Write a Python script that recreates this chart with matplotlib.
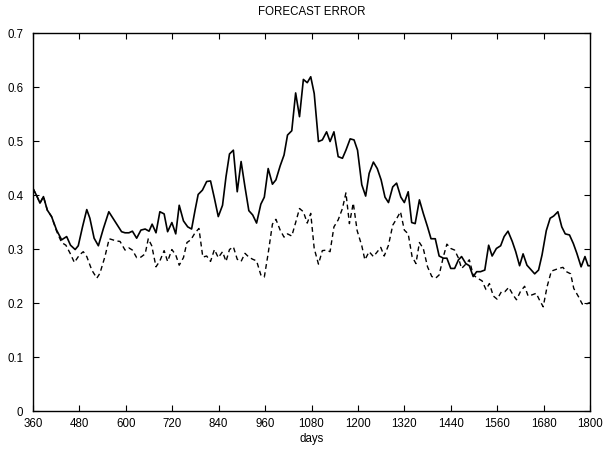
import matplotlib
matplotlib.use("Agg")
import matplotlib.pyplot as plt

plt.rcParams['font.family'] = ['Liberation Sans', 'DejaVu Sans']

solid_days = [360, 370, 378, 387, 397, 408, 421, 434, 447, 457, 469, 477, 488, 499, 507, 518, 529, 542, 556, 572, 589,
              598, 608, 617, 628, 639, 650, 660, 668, 678, 688, 699, 708, 719, 729, 738, 749, 760, 770, 779, 787, 798,
              809, 819, 829, 839, 850, 859, 868, 878, 888, 898, 908, 918, 928, 938, 949, 958, 968, 979, 988, 999, 1009,
              1018, 1029, 1039, 1049, 1059, 1069, 1078, 1087, 1098, 1108, 1119, 1128, 1138, 1149, 1160, 1169, 1180,
              1190, 1199, 1210, 1220, 1229, 1240, 1250, 1260, 1270, 1279, 1290, 1300, 1311, 1320, 1330, 1339, 1348,
              1359, 1369, 1380, 1389, 1400, 1410, 1421, 1430, 1440, 1450, 1460, 1468, 1479, 1488, 1498, 1507, 1517,
              1528, 1538, 1547, 1558, 1569, 1578, 1588, 1599, 1608, 1618, 1627, 1637, 1647, 1657, 1667, 1676, 1687,
              1697, 1706, 1717, 1727, 1736, 1747, 1757, 1766, 1777, 1787, 1795, 1800]
solid_vals = [0.412, 0.398, 0.385, 0.397, 0.372, 0.360, 0.335, 0.317, 0.323, 0.307, 0.299, 0.306, 0.341, 0.373, 0.357,
              0.320, 0.306, 0.338, 0.369, 0.351, 0.332,
              0.330, 0.330, 0.333, 0.320, 0.335, 0.337, 0.333, 0.346, 0.330, 0.369, 0.365, 0.332, 0.349, 0.328, 0.381,
              0.352, 0.341, 0.337, 0.372, 0.401, 0.409, 0.425, 0.426, 0.394, 0.360, 0.381, 0.434, 0.476, 0.483, 0.406,
              0.462, 0.415, 0.371, 0.363, 0.348, 0.383, 0.396, 0.449, 0.420, 0.428, 0.454, 0.474, 0.511, 0.519, 0.589,
              0.545, 0.614, 0.608, 0.619, 0.588, 0.499, 0.502, 0.517, 0.499, 0.517, 0.471, 0.468, 0.483, 0.504, 0.502,
              0.483, 0.419, 0.398, 0.440, 0.461, 0.449, 0.428, 0.396, 0.386, 0.415, 0.422, 0.396, 0.386, 0.406, 0.349,
              0.347, 0.391, 0.366, 0.341, 0.319, 0.319, 0.287, 0.283, 0.283, 0.264, 0.264, 0.280, 0.286, 0.273, 0.269,
              0.249, 0.258, 0.258, 0.261, 0.307, 0.287, 0.301, 0.306, 0.323, 0.333, 0.314, 0.295, 0.269, 0.291, 0.270,
              0.262, 0.254, 0.261, 0.289, 0.334, 0.357, 0.361, 0.369, 0.341, 0.328, 0.326, 0.310, 0.292, 0.267, 0.286,
              0.269, 0.269]

dashed_days = [360, 370, 378, 387, 397, 408, 421, 434, 445, 456, 467, 480, 490, 499, 512, 525, 533, 546, 557, 575, 585,
               598, 608, 617, 628, 639, 650, 658, 667, 678, 688, 699, 708, 719, 729, 738, 749, 758, 768, 779, 789, 799,
               809, 819, 829, 839, 850, 859, 868, 878, 888, 898, 908, 918, 928, 938, 949, 958, 968, 979, 988, 999,
               1009, 1018, 1029, 1039, 1049, 1059, 1069, 1078, 1087, 1098, 1108, 1119, 1128, 1138, 1149, 1160, 1169,
               1178, 1188, 1198, 1210, 1218, 1229, 1240, 1248, 1259, 1268, 1279, 1290, 1300, 1310, 1320, 1330, 1340,
               1350, 1359, 1369, 1380, 1391, 1401, 1410, 1421, 1430, 1440, 1450, 1460, 1468, 1479, 1488, 1498, 1509,
               1521, 1531, 1540, 1550, 1560, 1571, 1580, 1590, 1601, 1610, 1620, 1631, 1640, 1650, 1661, 1669, 1679,
               1689, 1700, 1711, 1719, 1730, 1739, 1750, 1758, 1770, 1780, 1790, 1800]
dashed_vals = [0.412, 0.398, 0.385, 0.397, 0.372, 0.360, 0.333, 0.312, 0.307, 0.292, 0.275, 0.289, 0.295, 0.286, 0.261,
               0.246, 0.255, 0.286, 0.319, 0.315, 0.314,
               0.298, 0.302, 0.298, 0.284, 0.285, 0.291, 0.319, 0.306, 0.267, 0.278, 0.297, 0.277, 0.299, 0.289, 0.270,
               0.284, 0.312, 0.317, 0.330, 0.338, 0.285, 0.287, 0.277, 0.299, 0.284, 0.295, 0.277, 0.299, 0.304, 0.281,
               0.277, 0.292, 0.285, 0.281, 0.278, 0.252, 0.248, 0.292, 0.346, 0.355, 0.335, 0.322, 0.328, 0.324, 0.349,
               0.375, 0.369, 0.348, 0.366, 0.301, 0.272, 0.297, 0.298, 0.295, 0.341, 0.354, 0.375, 0.404, 0.347, 0.385,
               0.334, 0.306, 0.280, 0.295, 0.286, 0.293, 0.303, 0.287, 0.307, 0.344, 0.356, 0.369, 0.335, 0.328, 0.286,
               0.273, 0.312, 0.301, 0.267, 0.249, 0.246, 0.252, 0.286, 0.309, 0.301, 0.298, 0.283, 0.264, 0.272, 0.280,
               0.252, 0.246, 0.241, 0.225, 0.236, 0.213, 0.207, 0.221, 0.221, 0.229, 0.215, 0.206, 0.221, 0.231, 0.213,
               0.215, 0.218, 0.206, 0.193, 0.230, 0.259, 0.262, 0.264, 0.266, 0.258, 0.254, 0.227, 0.212, 0.198, 0.198,
               0.201]

x_ticks = list(range(360, 1801, 120))
y_ticks = [0, 0.1, 0.2, 0.3, 0.4, 0.5, 0.6, 0.7]
y_tick_labels = ["0", "0.1", "0.2", "0.3", "0.4", "0.5", "0.6", "0.7"]

fig = plt.figure(figsize=(6.04, 4.54), dpi=100)
ax = fig.add_axes([33 / 604, 1 - 411 / 454, (590 - 33) / 604, (411 - 33) / 454])

ax.plot(solid_days, solid_vals, color='black', lw=1.2)
ax.plot(dashed_days, dashed_vals, color='black', lw=1.0, linestyle=(0, (3.5, 2.5)))

ax.set_xlim(360, 1800)
ax.set_ylim(0, 0.7)
ax.set_xticks(x_ticks)
ax.set_xticklabels([str(t) for t in x_ticks])
ax.set_yticks(y_ticks)
ax.set_yticklabels(y_tick_labels)
ax.tick_params(direction='in', length=4, width=0.8, top=True, right=True, labelsize=8.3)
ax.tick_params(axis='x', pad=5)
ax.tick_params(axis='y', pad=7)
for s in ax.spines.values():
    s.set_linewidth(1.0)
ax.set_xlabel("days", fontsize=8.3, labelpad=2)
ax.set_title("FORECAST ERROR", fontsize=8.3, pad=13)

fig.savefig("out.png", dpi=100)
